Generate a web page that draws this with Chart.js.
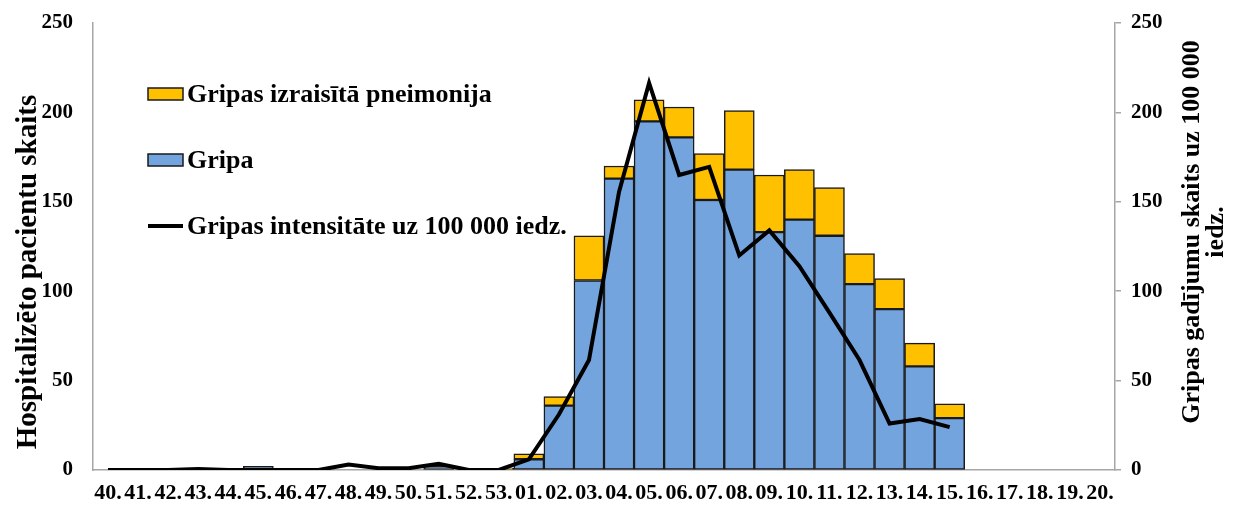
<!DOCTYPE html>
<html>
<head>
<meta charset="utf-8">
<script src="https://cdn.jsdelivr.net/npm/chart.js@4.4.1/dist/chart.umd.min.js"></script>
<style>
  html, body { margin: 0; padding: 0; background: #fff; }
  #wrap { width: 1233px; height: 506px; }
</style>
</head>
<body>
<div id="wrap"><canvas id="chart"></canvas></div>
<script>
// nedēļas
var weeks = ['40.','41.','42.','43.','44.','45.','46.','47.','48.','49.','50.','51.','52.','53.',
             '01.','02.','03.','04.','05.','06.','07.','08.','09.','10.','11.','12.','13.','14.','15.',
             '16.','17.','18.','19.','20.'];
var gripa      = [0,0,0,1,0,2,0,0,0,0,0,2,0,0, 6,36,106,163,195,186,151,168,133,140,131,104,90,58,29, null,null,null,null,null];
var pneimonija = [0,0,0,0,0,0,0,0,0,0,0,0,0,1, 3, 5, 25,  7, 12, 17, 26, 33, 32, 28, 27, 17,17,13, 8, null,null,null,null,null];
var intensitate = [0,0,0,0.5,0,0,0,0,3,1,1,3.5,0,0, 6,31,61.5,155.5,216.5,165,169.5,120,134,114,88,61.5,26,28.5,24, null,null,null,null,null];
var yTicks = [0, 50, 100, 150, 200, 250];

var FONT = "'Liberation Serif', 'Times New Roman', serif";
var axisGray = '#a6a6a6';

var titlesAndLegend = {
  id: 'titlesAndLegend',
  afterDraw: function(chart) {
    var ctx = chart.ctx;
    ctx.save();
    ctx.fillStyle = '#000';

    // kreisās ass nosaukums
    ctx.font = 'bold 29px ' + FONT;
    ctx.textAlign = 'center';
    ctx.textBaseline = 'middle';
    ctx.save();
    ctx.translate(29, 272);
    ctx.rotate(-Math.PI / 2);
    ctx.fillText('Hospitalizēto pacientu skaits', 0, 0);
    ctx.restore();

    // labās ass nosaukums (lasāms no apakšas uz augšu)
    ctx.font = 'bold 26px ' + FONT;
    ctx.save();
    ctx.translate(1192, 232);
    ctx.rotate(-Math.PI / 2);
    ctx.fillText('Gripas gadījumu skaits uz 100 000', 0, 0);
    ctx.fillText('iedz.', 0, 24);
    ctx.restore();

    // leģenda
    var items = [chart.data.datasets[1], chart.data.datasets[0], chart.data.datasets[2]];
    var rowY = [94, 160, 226];
    ctx.font = 'bold 26px ' + FONT;
    ctx.textAlign = 'left';
    ctx.textBaseline = 'alphabetic';
    items.forEach(function(ds, i) {
      var y = rowY[i];
      if (ds.type === 'line') {
        ctx.strokeStyle = ds.borderColor;
        ctx.lineWidth = 4;
        ctx.beginPath();
        ctx.moveTo(148, y);
        ctx.lineTo(183, y);
        ctx.stroke();
      } else {
        ctx.fillStyle = ds.backgroundColor;
        ctx.fillRect(148, y - 6, 35, 12);
        ctx.strokeStyle = '#1a1a1a';
        ctx.lineWidth = 1.5;
        ctx.strokeRect(148, y - 6, 35, 12);
      }
      ctx.fillStyle = '#000';
      ctx.fillText(ds.label, 187, y + 8);
    });
    ctx.restore();
  }
};

new Chart(document.getElementById('chart'), {
  data: {
    labels: weeks,
    datasets: [
      {
        type: 'bar',
        label: 'Gripa',
        data: gripa,
        backgroundColor: '#73A4DD',
        borderColor: '#1a1a1a',
        borderWidth: 1.5,
        borderSkipped: false,
        barPercentage: 1,
        categoryPercentage: 1,
        yAxisID: 'y',
        order: 2
      },
      {
        type: 'bar',
        label: 'Gripas izraisītā pneimonija',
        data: pneimonija,
        backgroundColor: '#FFC000',
        borderColor: '#1a1a1a',
        borderWidth: 1.5,
        borderSkipped: false,
        barPercentage: 1,
        categoryPercentage: 1,
        yAxisID: 'y',
        order: 2
      },
      {
        type: 'line',
        label: 'Gripas intensitāte uz 100 000 iedz.',
        data: intensitate,
        borderColor: '#000',
        borderWidth: 4,
        pointRadius: 0,
        tension: 0,
        yAxisID: 'y1',
        order: 0
      }
    ]
  },
  options: {
    responsive: true,
    maintainAspectRatio: false,
    animation: false,
    devicePixelRatio: 1,
    layout: { padding: { top: 23, left: 0, right: 0, bottom: 0 } },
    plugins: {
      legend: { display: false },
      tooltip: { enabled: false }
    },
    scales: {
      x: {
        stacked: true,
        grid: { display: false },
        border: { display: true, color: axisGray, width: 1.5 },
        ticks: {
          color: '#000',
          font: { family: FONT, size: 22, weight: 'bold' },
          maxRotation: 0,
          autoSkip: false,
          padding: 2
        },
        afterFit: function(s) { s.height = 36; }
      },
      y: {
        stacked: true,
        min: 0,
        max: 250,
        afterBuildTicks: function(s) { s.ticks = yTicks.map(function(v) { return { value: v }; }); },
        // neredzamas iedaļas, lai atbīdītu skaitļus no ass
        grid: { display: true, drawOnChartArea: false, drawTicks: true, tickLength: 18, tickColor: 'rgba(0,0,0,0)' },
        border: { display: true, color: axisGray, width: 1.5 },
        ticks: {
          color: '#000',
          font: { family: FONT, size: 21, weight: 'bold' },
          padding: 2
        },
        afterFit: function(s) { s.width = 93; }
      },
      y1: {
        position: 'right',
        min: 0,
        max: 250,
        afterBuildTicks: function(s) { s.ticks = yTicks.map(function(v) { return { value: v }; }); },
        grid: { drawOnChartArea: false, tickLength: 6, color: axisGray, lineWidth: 1.5 },
        border: { display: true, color: axisGray, width: 1.5 },
        ticks: {
          color: '#000',
          font: { family: FONT, size: 21, weight: 'bold' },
          padding: 10
        },
        afterFit: function(s) { s.width = 118; }
      }
    }
  },
  plugins: [titlesAndLegend]
});
</script>
</body>
</html>
